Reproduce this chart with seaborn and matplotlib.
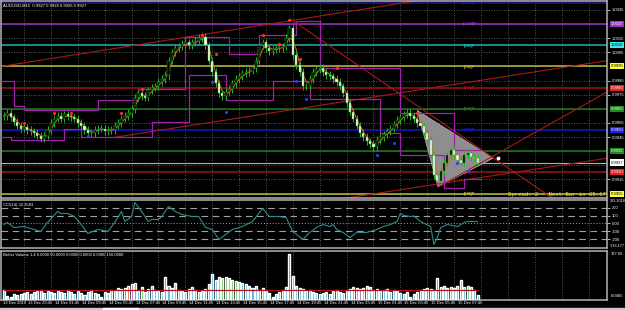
import numpy as np
import pandas as pd
import matplotlib
matplotlib.use("Agg")
import matplotlib.pyplot as plt
import matplotlib.transforms as mtransforms
from matplotlib import font_manager
from matplotlib.patches import Polygon, Rectangle
import seaborn as sns

# ---- data (AUDUSD M15, 13-15 Dec 2010) ----
closes = [0.9960, 0.9962, 0.9959, 0.9956, 0.9953, 0.9951, 0.9952, 0.9950, 0.9949, 0.9948,
          0.9946, 0.9944, 0.9946, 0.9950, 0.9955, 0.9958, 0.9960, 0.9958, 0.9961, 0.9960,
          0.9959, 0.9958, 0.9955, 0.9953, 0.9950, 0.9948, 0.9948, 0.9950, 0.9951, 0.9951,
          0.9949, 0.9950, 0.9950, 0.9953, 0.9955, 0.9958, 0.9960, 0.9962, 0.9965, 0.9973,
          0.9976, 0.9974, 0.9973, 0.9978, 0.9980, 0.9981, 0.9984, 0.9986, 0.9989, 0.9999,
          1.0005, 1.0008, 1.0009, 1.0011, 1.0012, 1.0010, 1.0012, 1.0013, 1.0015, 1.0016,
          1.0010, 0.9999, 0.9991, 0.9983, 0.9976, 0.9974, 0.9977, 0.9979, 0.9983, 0.9986,
          0.9988, 0.9990, 0.9991, 0.9992, 0.9994, 0.9999, 1.0010, 1.0012, 1.0008, 1.0006,
          1.0007, 1.0008, 1.0008, 1.0009, 1.0015, 1.0022, 1.0003, 0.9996, 0.9991, 0.9981,
          0.9981, 0.9986, 0.9991, 0.9993, 0.9994, 0.9991, 0.9989, 0.9988, 0.9986, 0.9984,
          0.9981, 0.9976, 0.9969, 0.9963, 0.9958, 0.9953, 0.9948, 0.9945, 0.9942, 0.9940,
          0.9938, 0.9943, 0.9945, 0.9947, 0.9949, 0.9951, 0.9954, 0.9957, 0.9959, 0.9961,
          0.9962, 0.9960, 0.9958, 0.9955, 0.9953, 0.9948, 0.9943, 0.9932, 0.9918, 0.9914,
          0.9921, 0.9927, 0.9932, 0.9936, 0.9932, 0.9929, 0.9927, 0.9932, 0.9934, 0.9931,
          0.9930, 0.9927]

volumes = [150, 60, 40, 90, 75, 90, 105, 120, 90, 120,
           135, 150, 105, 135, 120, 105, 135, 120, 105, 150,
           120, 90, 135, 105, 75, 120, 150, 105, 90, 45,
           120, 105, 150, 135, 180, 165, 180, 210, 240, 255,
           135, 195, 120, 165, 210, 150, 135, 120, 345, 210,
           180, 255, 150, 135, 120, 165, 195, 150, 120, 135,
           165, 240, 390, 300, 345, 330, 345, 330, 300, 285,
           270, 255, 240, 210, 180, 210, 150, 180, 135, 105,
           45, 90, 120, 150, 195, 690, 360, 210, 180, 165,
           135, 150, 120, 105, 90, 105, 120, 90, 135, 150,
           120, 105, 150, 165, 195, 180, 165, 180, 210, 195,
           150, 165, 135, 150, 165, 120, 150, 135, 105, 90,
           120, 45, 90, 120, 150, 165, 180, 165, 150, 330,
           195, 210, 180, 195, 180, 210, 300, 195, 210, 195,
           150, 75]
# b=normal, y=low, g=churn, r=climax, m=climax+churn
vol_kind = ("byybbbbbbb" "ggbbbbbbbb" "bbbbbbbbby" "bbbbbbmrmr" "bgbbbbbbrb"
            "bbbbbbbbbb" "bbbbgggggg" "bbbbbbbbby" "ybbbbmbbbb" "bbbbbbbbbb"
            "bbbbbbmbbb" "bbbbgbbbbb" "byb" "bbbmbbmm" "bbbbbbbggb" "bb")

red_fr_bars = [6, 15, 20, 35, 41, 59, 63, 77, 82, 85, 88, 99, 123]
red_fr_vals = [0.9955, 0.9962, 0.9962, 0.9962, 0.9979, 1.0017, 1.0004, 1.0017, 1.0011, 1.0028,
               1.0000, 0.9994, 0.9962]
blue_fr_bars = [25, 62, 66, 87, 90, 111, 116, 135, 138]
blue_fr_vals = [0.9946, 0.9984, 0.9963, 0.9985, 0.9972, 0.9932, 0.9941, 0.9927, 0.9921]

upper_bars = [-1, 3, 6, 28, 40, 54, 67, 76, 87, 94, 118, 134, 142]
upper_vals = [0.9985, 0.9967, 0.9964, 0.9971, 0.9979, 1.0016, 1.0004, 1.0017, 1.0027, 0.9994,
              0.9962, 0.9936, 0.9936]
lower_bars = [-1, 2, 18, 23, 44, 55, 66, 80, 91, 112, 118, 131, 137, 142]
lower_vals = [0.9945, 0.9943, 0.9951, 0.9945, 0.9956, 0.9989, 0.9971, 0.9985, 0.9972, 0.9948,
              0.9932, 0.9909, 0.9915, 0.9915]

cci_bars = [0, 1, 3, 6, 8, 11, 13, 16, 17, 19, 21, 23, 25, 28, 31, 33, 35, 36, 38, 39,
            41, 43, 44, 46, 47, 49, 51, 53, 56, 58, 60, 62, 64, 66, 68, 71, 74, 77, 79, 82,
            84, 85, 86, 89, 91, 93, 95, 97, 98, 99, 101, 103, 105, 108, 111, 113, 115, 117, 118, 119,
            121, 122, 124, 127, 128, 129, 130, 132, 135, 137, 138, 141]
cci_vals = [-13, 13, -52, -39, -65, -103, 13, 155, 129, 129, 90, -13, -129, -77, -103, 13, 155, 26, 90, 271,
            155, 26, 52, 52, 90, 219, 155, 116, 90, 90, -52, -77, -206, -142, -77, -39, 26, 194, 90, 90,
            77, -13, -103, -206, -116, -52, -13, -39, -13, -77, -116, -181, -116, -116, -77, -39, -13, 26, 129, 103,
            90, 97, 26, -39, -271, -181, -52, -13, -39, 13, 26, 26]

# Murrey math levels
mm_levels = [1.0040, 1.0025, 1.0010, 0.9995, 0.9980, 0.9965, 0.9950, 0.9935, 0.9920, 0.9905]
mm_names = ["[+2/8]P", "[+1/8]P", "[8/8]P", "[7/8]P", "[6/8]P", "[5/8]P", "[4/8]P", "[3/8]P",
            "[2/8]P", "[1/8]P"]
last_price = 0.9927

# hand-drawn trend lines (start bar, start price, end bar, end price)
tl_x0 = [-1.1, 33.1, 85.2, 98.0, 129.2]
tl_y0 = [0.99949, 0.99449, 1.00287, 0.99005, 0.99097]
tl_x1 = [122.4, 179.5, 164.0, 179.8, 179.8]
tl_y1 = [1.00413, 0.99991, 0.99005, 0.99301, 0.99773]
tri_bars = [123.0, 129.2, 145.6]
tri_vals = [0.99639, 0.99097, 0.99301]

# price scale labels (the ones not hidden behind the level boxes)
price_ticks = [1.0035, 1.0015, 1.0005, 0.9985, 0.9975, 0.9955, 0.9945, 0.9915]
grid_prices = [1.0035, 1.0025, 1.0015, 1.0005, 0.9995, 0.9985, 0.9975, 0.9965, 0.9955,
               0.9945, 0.9935, 0.9925, 0.9915, 0.9905]
time_labels = ["13 Dec 23:45", "14 Dec 01:45", "14 Dec 03:45", "14 Dec 05:45", "14 Dec 07:45",
               "14 Dec 09:45", "14 Dec 11:45", "14 Dec 13:45", "14 Dec 15:45", "14 Dec 17:45",
               "14 Dec 19:45", "14 Dec 21:45", "14 Dec 23:45", "15 Dec 01:45", "15 Dec 03:45",
               "15 Dec 05:45", "15 Dec 07:45"]

# ---- styling ----
sns.set_style("dark")
installed = {f.name for f in font_manager.fontManager.ttflist}
NARROW = 'Liberation Sans Narrow' if 'Liberation Sans Narrow' in installed else 'Liberation Sans'
plt.rcParams['font.family'] = [NARROW, 'DejaVu Sans']
FS = 3.0
GREEN = '#22b422'
mm_colors = ['#1c1c90', '#9a30c8', '#20b4b4', '#bcbc40', '#a01414', '#1e7a1e', '#1818c8',
             '#1e7a1e', '#a01414', '#bcbc40']
box_colors = ['#1c1c90', '#9a30c8', '#40e8e8', '#ffff40', '#e82020', '#208a20', '#2020e0',
              '#208a20', '#e82020', '#ffff40']
box_text = ['white', 'white', 'black', 'black', 'white', 'white', 'white', 'white', 'white', 'black']
vol_pal = {'b': '#38aee0', 'y': '#e8e830', 'g': '#40c040', 'r': '#e02020', 'm': '#b020b0'}

W, H = 625, 310
XMIN, XMAX = -0.85, 179.5
fig = plt.figure(figsize=(W / 100, H / 100), dpi=100, facecolor='black')


def panel(top, bottom):
    a = fig.add_axes([1 / W, 1 - bottom / H, 606 / W, (bottom - top) / H])
    a.set_facecolor('black')
    a.set_xlim(XMIN, XMAX)
    for s in a.spines.values():
        s.set_color('#b4b4b4')
        s.set_linewidth(1.1)
    a.set_xticks([])
    a.yaxis.tick_right()
    a.tick_params(axis='y', labelsize=FS, colors='white', length=2, width=0.5, pad=1.5)
    a.grid(False)
    return a


ax = panel(1, 198)
axc = panel(200, 248)
axv = panel(251, 300)

n = len(closes)
idx = np.arange(n)
c = np.array(closes)
o = np.r_[c[0], c[:-1]]
WICK = 0.00026
hi = np.maximum(o, c) + WICK
lo = np.minimum(o, c) - WICK

grid_bars = [6 + 8 * k for k in range(22)]
for a in (ax, axc, axv):
    for gb in grid_bars:
        a.axvline(gb, color='#707070', lw=0.6, ls=(0, (1, 2)), zorder=0)

# ---- main price panel ----
ax.set_ylim(0.99019, 1.00413)
for t in grid_prices:
    ax.axhline(t, color='#707070', lw=0.6, ls=(0, (1, 2)), zorder=0)
ax.set_yticks(price_ticks)
ax.set_yticklabels([f"{t:.4f}" for t in price_ticks])

for lvl, col, name in zip(mm_levels, mm_colors, mm_names):
    ax.axhline(lvl, color=col, lw=1.1, zorder=1)
    ax.text(138.5, lvl - 0.00003, name, color=col, fontsize=FS, ha='center', va='center',
            zorder=2, fontweight='bold')
ax.axhline(last_price, color='#b0b0b0', lw=0.8, zorder=1)

ax.add_patch(Polygon(list(zip(tri_bars, tri_vals)), closed=True, fc='#8e8e8e', ec='#b0b0b0',
                     lw=0.5, zorder=2))
for x0, y0, x1, y1 in zip(tl_x0, tl_y0, tl_x1, tl_y1):
    ax.plot([x0, x1], [y0, y1], color='#a81818', lw=0.8, zorder=2)
ax.scatter([tri_bars[2] + 1.5], [tri_vals[2] - 0.00002], s=3, color='white', zorder=6)

ax.step(upper_bars, upper_vals, where='post', color='#a020a8', lw=0.9, zorder=3)
ax.step(lower_bars, lower_vals, where='post', color='#a020a8', lw=0.9, zorder=3)

ma = pd.Series(closes).rolling(3, min_periods=1).mean()
sns.lineplot(x=idx, y=ma.values, ax=ax, color='#e8641e', lw=0.7, zorder=3.5)

# candles: lime outline, bull = black body, bear = white body
ax.vlines(idx, lo, hi, color=GREEN, lw=0.7, zorder=4)
body = np.maximum(np.abs(c - o), 0.00004)
ax.bar(idx, body, bottom=np.minimum(o, c), width=0.62,
       color=np.where(c >= o, 'black', 'white'), edgecolor=GREEN, lw=0.35, zorder=5)

sns.scatterplot(x=red_fr_bars, y=red_fr_vals, ax=ax, color='#ff2a2a', s=5, lw=0, zorder=7)
sns.scatterplot(x=blue_fr_bars, y=blue_fr_vals, ax=ax, color='#2a3cff', s=5, lw=0, zorder=7)
ax.set_xlim(XMIN, XMAX)
ax.set_xlabel('')
ax.set_ylabel('')

for lvl, bc, tc in zip(mm_levels[1:], box_colors[1:], box_text[1:]):
    ax.text(1.006, lvl, f"{lvl:.4f}", transform=ax.get_yaxis_transform(), fontsize=FS,
            color=tc, va='center', ha='left', clip_on=False, zorder=8,
            bbox=dict(boxstyle='square,pad=0.25', fc=bc, ec='none'))
ax.text(1.006, last_price, f"{last_price:.4f}", transform=ax.get_yaxis_transform(),
        fontsize=FS, color='black', va='center', ha='left', clip_on=False, zorder=9,
        bbox=dict(boxstyle='square,pad=0.25', fc='white', ec='none'))

ax.text(0.004, 0.985, "AUDUSD,M15  0.9927 0.9928 0.9926 0.9927", transform=ax.transAxes,
        color='white', fontsize=FS, va='top', ha='left')
ax.text(0.836, 0.006, "Spread: 2 - Next Bar in 05:17", transform=ax.transAxes,
        color='#e8e840', fontsize=4.1, va='bottom', ha='left', zorder=9,
        family=['Liberation Mono', 'DejaVu Sans Mono'])

# ---- CCI panel ----
axc.set_ylim(-316, 303)
for lv in (200, 100, -100, -200):
    axc.axhline(lv, color='#a0a0a0', lw=0.8, ls=(0, (6, 4)), zorder=1)
axc.axhline(0, color='#a0a0a0', lw=0.7, ls=(0, (1, 2)), zorder=1)
sns.lineplot(x=cci_bars, y=cci_vals, ax=axc, color='#2f8c8c', lw=0.8, zorder=3)
axc.set_xlim(XMIN, XMAX)
axc.set_xlabel('')
axc.set_ylabel('')
axc.set_yticks([200, 100, 0, -100, -200])
axc.set_yticklabels(["200", "100", "0.00", "-100", "-200"])
axc.text(1.004, 0.97, "303.2018", transform=axc.transAxes, fontsize=2.7, color='white',
         va='center', ha='left', clip_on=False)
axc.text(1.004, 0.04, "-316.177", transform=axc.transAxes, fontsize=2.7, color='white',
         va='center', ha='left', clip_on=False)
axc.text(0.004, 0.93, "CCI(14) 32.1583", transform=axc.transAxes, color='white',
         fontsize=FS, va='top', ha='left')

# ---- volume panel ----
VOL_LEVEL = 150
axv.set_ylim(0, 727.65)
axv.bar(idx, volumes, width=0.6, color=[vol_pal[k] for k in vol_kind], zorder=3)
axv.plot([0, n - 1], [VOL_LEVEL, VOL_LEVEL], color='#b01414', lw=0.9, zorder=4)
axv.set_yticks([])
axv.text(1.006, 0.93, "727.65", transform=axv.transAxes, fontsize=FS, color='white',
         va='center', ha='left', clip_on=False)
axv.text(1.006, 0.08, "0.0465", transform=axv.transAxes, fontsize=FS, color='white',
         va='center', ha='left', clip_on=False)
axv.text(0.004, 0.95, "Better Volume 1.4 0.0000 60.0000 0.0000 0.0000 0.0000 150.0000",
         transform=axv.transAxes, color='white', fontsize=FS, va='top', ha='left')

trans = mtransforms.blended_transform_factory(axv.transData, axv.transAxes)
axv.text(-0.3, -0.03, "13 Dec 2010", transform=trans, color='white', fontsize=FS,
         va='top', ha='left', clip_on=False)
for k, lab in enumerate(time_labels):
    axv.text(grid_bars[k] + 1.2, -0.03, lab, transform=trans, color='white', fontsize=FS,
             va='top', ha='left', clip_on=False)

# window tab strip at the bottom
fig.patches.append(Rectangle((0, 0), 1, 2.5 / H, transform=fig.transFigure,
                             color='#c8c8c8', zorder=0))
fig.patches.append(Rectangle((103 / W, 0), 35 / W, 2.5 / H, transform=fig.transFigure,
                             color='white', zorder=1))

fig.savefig("out.png", dpi=100, facecolor='black')
